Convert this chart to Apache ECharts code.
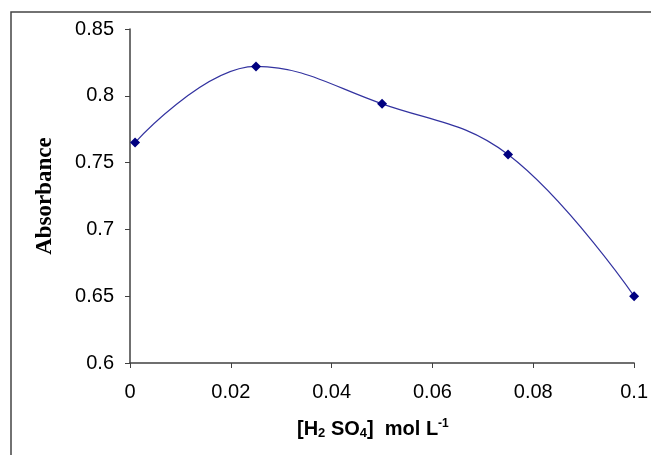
<!DOCTYPE html>
<html lang="en">
  <head>
    <meta charset="UTF-8" />
    <title>Absorbance vs H2SO4</title>
    <script src="https://cdn.jsdelivr.net/npm/echarts@6.0.0/dist/echarts.min.js"></script>
    <style>
      html, body { margin: 0; padding: 0; background: #fff; }
      #chart { width: 651px; height: 455px; }
    </style>
  </head>
  <body>
    <div id="chart"></div>
    <script>
      // 数据：硫酸浓度 (mol/L) 与吸光度
      var conc = [0.001, 0.025, 0.05, 0.075, 0.1];
      var absorbance = [0.765, 0.822, 0.794, 0.756, 0.65];

      var points = [];
      for (var i = 0; i < conc.length; i++) {
        points.push([conc[i], absorbance[i]]);
      }

      var myChart = echarts.init(document.getElementById("chart"));
      var option = {
        animation: false,
        grid: { left: 130, right: 14, top: 29, bottom: 92 },
        graphic: [
          {
            type: "rect",
            shape: { x: 11, y: 12, width: 700, height: 500 },
            style: { fill: null, stroke: "#444", lineWidth: 1.5 },
            silent: true
          },
          {
            type: "text",
            left: 297,
            top: 418,
            style: {
              text: "[H{sub|2} SO{sub|4}]  mol L{sup|-1}",
              rich: {
                sub: { fontSize: 13, fontWeight: "bold", verticalAlign: "bottom", padding: [7, 0, 0, 0] },
                sup: { fontSize: 12, fontWeight: "bold", verticalAlign: "top", padding: [0, 0, 10, 0] }
              },
              font: "bold 20px 'Liberation Sans', Arial, sans-serif",
              fill: "#000"
            }
          }
        ],
        xAxis: {
          type: "value",
          min: 0,
          max: 0.1,
          interval: 0.02,
          splitLine: { show: false },
          axisLine: { show: true, onZero: false, lineStyle: { color: "#404040", width: 1.5 } },
          axisTick: { show: true, length: 5, lineStyle: { color: "#404040" } },
          axisLabel: {
            margin: 19,
            color: "#000",
            fontSize: 20,
            fontFamily: "Liberation Sans, Arial, sans-serif"
          }
        },
        yAxis: {
          type: "value",
          min: 0.6,
          max: 0.85,
          interval: 0.05,
          name: "Absorbance",
          nameLocation: "middle",
          nameGap: 73,
          nameTextStyle: {
            fontFamily: "Liberation Serif, Times New Roman, serif",
            fontWeight: "bold",
            fontSize: 23,
            color: "#000"
          },
          splitLine: { show: false },
          axisLine: { show: true, lineStyle: { color: "#404040", width: 1.5 } },
          axisTick: { show: true, length: 5, lineStyle: { color: "#404040" } },
          axisLabel: {
            margin: 16,
            color: "#000",
            fontSize: 20,
            fontFamily: "Liberation Sans, Arial, sans-serif"
          }
        },
        series: [
          {
            type: "line",
            data: points,
            smooth: 0.4,
            symbol: "diamond",
            symbolSize: 10,
            lineStyle: { color: "#3333a0", width: 1.2 },
            itemStyle: { color: "#000080" }
          }
        ]
      };
      myChart.setOption(option);
    </script>
  </body>
</html>
